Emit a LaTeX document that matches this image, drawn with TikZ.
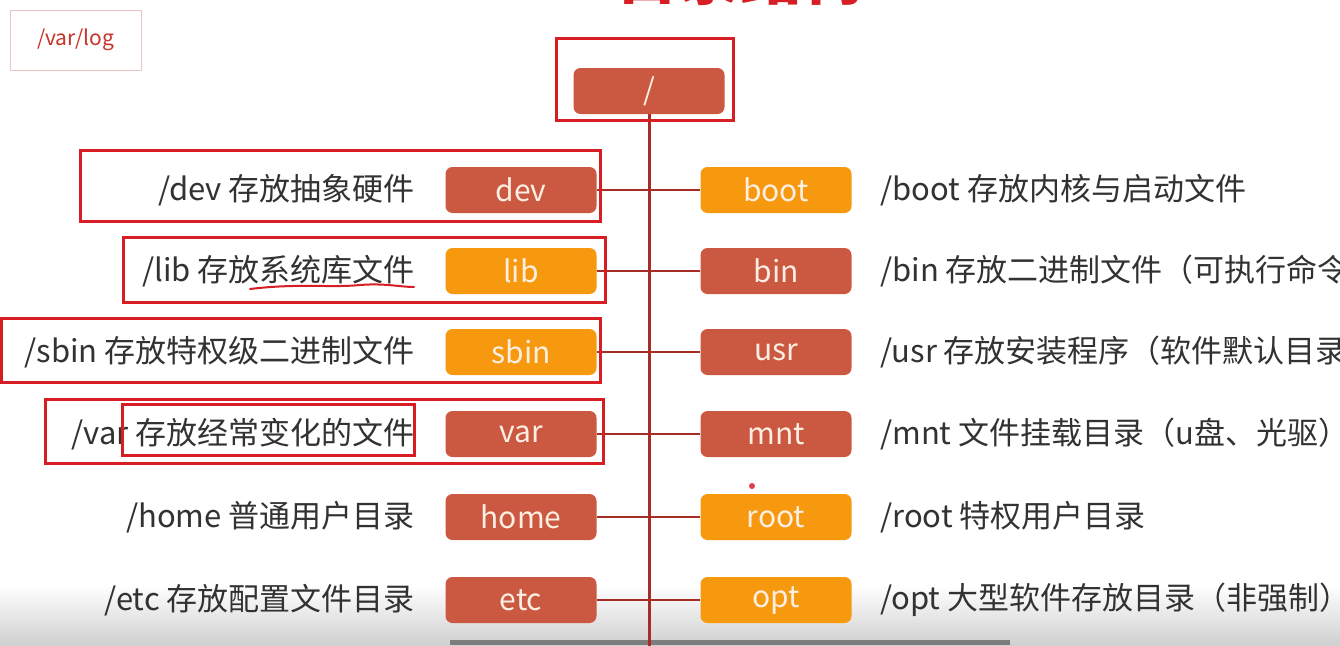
\documentclass[tikz,border=0pt]{standalone}
\usepackage{fontspec}
\setmainfont{Noto Sans CJK SC}
\definecolor{boxred}{RGB}{203,89,66}
\definecolor{boxorange}{RGB}{246,153,14}
\definecolor{trunk}{RGB}{165,45,35}
\definecolor{hl}{RGB}{214,30,36}
\definecolor{txt}{RGB}{50,50,50}
\definecolor{boxtxt}{RGB}{252,238,226}
\definecolor{pinkedge}{RGB}{236,196,196}
\definecolor{logred}{RGB}{200,50,40}
\definecolor{shadegray}{RGB}{208,208,208}
\definecolor{bargray}{RGB}{125,125,125}
\tikzset{
  dirbox/.style={minimum width=151pt, minimum height=46pt, rounded corners=7pt, inner sep=0pt, text=boxtxt, font=\fontsize{30}{34}\selectfont},
  redbox/.style={dirbox, fill=boxred},
  orgbox/.style={dirbox, fill=boxorange},
  desc/.style={text=txt, inner sep=0pt, font=\fontsize{31}{36}\selectfont},
  link/.style={draw=trunk, line width=2.5pt},
  trunkline/.style={draw=trunk, line width=3pt},
  hlframe/.style={draw=hl, line width=3pt},
}
\begin{document}
\begin{tikzpicture}[x=1pt,y=-1pt]
\useasboundingbox (0,0) rectangle (1340,645);
\clip (0,0) rectangle (1340,645);
\fill[white] (0,0) rectangle (1340,645);
\shade[top color=white, bottom color=shadegray] (0,585) rectangle (1340,645);
\fill[bargray] (450,640) rectangle (1010,645);
% partial title
\node[anchor=base, text=hl, font=\fontsize{62}{70}\selectfont\bfseries, inner sep=0pt] (title) at (740,-1) {目录结构};
% top-left note
\node[draw=pinkedge, fill=white, line width=1pt, minimum width=131pt, minimum height=60pt, inner sep=0pt, text=logred, font=\fontsize{21}{24}\selectfont] (note) at (75.5,40) {/var/log};
% root
\node[redbox] (root) at (649,91) {/};
\coordinate (tend) at (649,650);
\draw[trunkline] (root.south) -- (tend);
% left boxes
\node[redbox] (dev) at (521,190) {dev};
\node[orgbox] (lib) at (521,271) {lib};
\node[orgbox] (sbin) at (521,352) {sbin};
\node[redbox] (var) at (521,434) {var};
\node[redbox] (home) at (521,517) {home};
\node[redbox] (etc) at (521,600) {etc};
% right boxes
\node[orgbox] (boot) at (776,190) {boot};
\node[redbox] (bin) at (776,271) {bin};
\node[redbox] (usr) at (776,352) {usr};
\node[redbox] (mnt) at (776,434) {mnt};
\node[orgbox] (rootdir) at (776,517) {root};
\node[orgbox] (opt) at (776,600) {opt};
% connectors
\draw[link] (dev.east) -- (boot.west);
\draw[link] (lib.east) -- (bin.west);
\draw[link] (sbin.east) -- (usr.west);
\draw[link] (var.east) -- (mnt.west);
\draw[link] (home.east) -- (rootdir.west);
\draw[link] (etc.east) -- (opt.west);
% left descriptions
\node[desc, anchor=east] (devd) at (415,190) {/dev 存放抽象硬件};
\node[desc, anchor=east] (libd) at (415,271) {/lib 存放系统库文件};
\node[desc, anchor=east] (sbind) at (415,352) {/sbin 存放特权级二进制文件};
\node[desc, anchor=east] (vard) at (415,434) {/var 存放经常变化的文件};
\node[desc, anchor=east] (homed) at (415,517) {/home 普通用户目录};
\node[desc, anchor=east] (etcd) at (415,600) {/etc 存放配置文件目录};
% right descriptions
\node[desc, anchor=west] (bootd) at (880,190) {/boot 存放内核与启动文件};
\node[desc, anchor=west] (bind) at (880,271) {/bin 存放二进制文件（可执行命令};
\node[desc, anchor=west] (usrd) at (880,352) {/usr 存放安装程序（软件默认目录};
\node[desc, anchor=west] (mntd) at (880,434) {/mnt 文件挂载目录（u盘、光驱）};
\node[desc, anchor=west] (rootd) at (880,517) {/root 特权用户目录};
\node[desc, anchor=west] (optd) at (880,600) {/opt 大型软件存放目录（非强制）};
% highlight annotations
\draw[hlframe] (556,38) rectangle (733,120);
\draw[hlframe] (80,150) rectangle (600,221);
\draw[hlframe] (123,237) rectangle (605,302);
\draw[hlframe] (1.5,318) rectangle (600,382);
\draw[hlframe] (45,399) rectangle (603,463);
\draw[hlframe] (122,404) rectangle (414,455);
\draw[hl, line width=2pt, line cap=round] (250,289) .. controls (300,283) and (330,288) .. (360,285) .. controls (385,283) and (400,287) .. (414,287);
% pointer dot
\fill[hl!85] (752,486) circle (3pt);
\end{tikzpicture}
\end{document}
